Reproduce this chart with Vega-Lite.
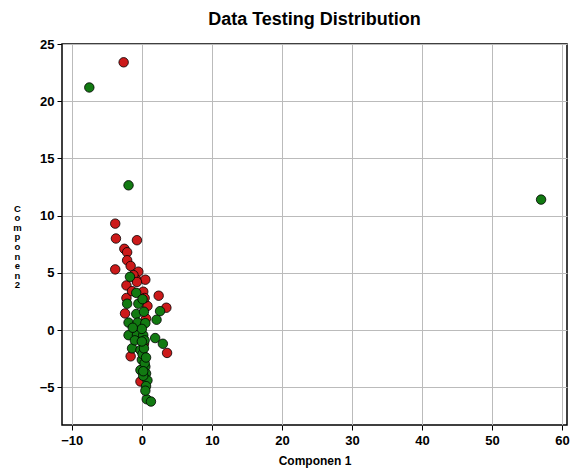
{
  "$schema": "https://vega.github.io/schema/vega-lite/v6.json",
  "autosize": "none",
  "width": 505,
  "height": 381,
  "padding": {"left": 62, "top": 44, "right": 3, "bottom": 49},
  "background": "white",
  "title": {"text": "Data Testing Distribution", "fontSize": 18, "fontWeight": "bold", "font": "Liberation Sans", "color": "black", "offset": 9, "anchor": "middle"},
  "config": {"view": {"stroke": "black", "strokeWidth": 1.5}},
  "data": {"values": [
    {"c1": -2.6, "c2": 23.4, "label": "red"},
    {"c1": -7.5, "c2": 21.2, "label": "green"},
    {"c1": -1.9, "c2": 12.65, "label": "green"},
    {"c1": 57.0, "c2": 11.4, "label": "green"},
    {"c1": -3.8, "c2": 9.3, "label": "red"},
    {"c1": -3.7, "c2": 8.0, "label": "red"},
    {"c1": -0.7, "c2": 7.85, "label": "red"},
    {"c1": -2.5, "c2": 7.1, "label": "red"},
    {"c1": -2.1, "c2": 6.8, "label": "red"},
    {"c1": -2.1, "c2": 6.1, "label": "red"},
    {"c1": -1.6, "c2": 5.6, "label": "red"},
    {"c1": -3.8, "c2": 5.3, "label": "red"},
    {"c1": -0.5, "c2": 5.1, "label": "red"},
    {"c1": -0.8, "c2": 4.4, "label": "red"},
    {"c1": -1.2, "c2": 4.8, "label": "red"},
    {"c1": 0.5, "c2": 4.4, "label": "red"},
    {"c1": -2.2, "c2": 3.9, "label": "red"},
    {"c1": -0.7, "c2": 4.2, "label": "red"},
    {"c1": 0.2, "c2": 3.35, "label": "red"},
    {"c1": 2.4, "c2": 3.0, "label": "red"},
    {"c1": 0.8, "c2": 2.1, "label": "red"},
    {"c1": 3.5, "c2": 1.95, "label": "red"},
    {"c1": -2.4, "c2": 1.45, "label": "red"},
    {"c1": -2.2, "c2": 2.8, "label": "red"},
    {"c1": 0.6, "c2": 1.0, "label": "red"},
    {"c1": -1.4, "c2": 3.4, "label": "red"},
    {"c1": 0.4, "c2": 2.8, "label": "red"},
    {"c1": -1.6, "c2": -2.3, "label": "red"},
    {"c1": 3.6, "c2": -2.0, "label": "red"},
    {"c1": -0.2, "c2": -4.5, "label": "red"},
    {"c1": 0.3, "c2": -1.2, "label": "red"},
    {"c1": -1.7, "c2": 4.65, "label": "green"},
    {"c1": -0.8, "c2": 3.25, "label": "green"},
    {"c1": -2.1, "c2": 2.3, "label": "green"},
    {"c1": -0.5, "c2": 2.3, "label": "green"},
    {"c1": 2.6, "c2": 1.65, "label": "green"},
    {"c1": -0.8, "c2": 1.4, "label": "green"},
    {"c1": 2.1, "c2": 0.9, "label": "green"},
    {"c1": -1.9, "c2": 0.65, "label": "green"},
    {"c1": -0.6, "c2": 0.65, "label": "green"},
    {"c1": 0.5, "c2": 0.6, "label": "green"},
    {"c1": -1.9, "c2": -0.45, "label": "green"},
    {"c1": -0.7, "c2": -0.45, "label": "green"},
    {"c1": 0.2, "c2": -0.45, "label": "green"},
    {"c1": 1.9, "c2": -0.7, "label": "green"},
    {"c1": 3.0, "c2": -1.2, "label": "green"},
    {"c1": -1.4, "c2": -1.6, "label": "green"},
    {"c1": -0.2, "c2": -1.75, "label": "green"},
    {"c1": 0.0, "c2": -2.6, "label": "green"},
    {"c1": 0.5, "c2": -3.2, "label": "green"},
    {"c1": -0.2, "c2": -3.5, "label": "green"},
    {"c1": 0.6, "c2": -3.8, "label": "green"},
    {"c1": 0.8, "c2": -4.4, "label": "green"},
    {"c1": 0.6, "c2": -4.9, "label": "green"},
    {"c1": 0.7, "c2": -6.05, "label": "green"},
    {"c1": 1.3, "c2": -6.25, "label": "green"},
    {"c1": 0.1, "c2": 2.7, "label": "green"},
    {"c1": 0.3, "c2": 1.6, "label": "green"},
    {"c1": 0.0, "c2": 0.1, "label": "green"},
    {"c1": 0.4, "c2": -0.9, "label": "green"},
    {"c1": 0.1, "c2": -2.1, "label": "green"},
    {"c1": 0.4, "c2": -2.9, "label": "green"},
    {"c1": 0.2, "c2": -4.0, "label": "green"},
    {"c1": 0.5, "c2": -5.3, "label": "green"},
    {"c1": -1.0, "c2": -0.9, "label": "green"},
    {"c1": -1.3, "c2": 0.2, "label": "green"},
    {"c1": 0.3, "c2": -1.6, "label": "green"},
    {"c1": 0.0, "c2": -1.0, "label": "green"},
    {"c1": 0.6, "c2": -2.4, "label": "green"},
    {"c1": 0.2, "c2": -3.6, "label": "green"}
  ]},
  "mark": {"type": "point", "filled": true, "opacity": 1, "stroke": "black", "strokeWidth": 0.8, "size": 90},
  "encoding": {
    "x": {"field": "c1", "type": "quantitative",
      "scale": {"domain": [-11.4, 60.7], "nice": false, "zero": false},
      "axis": {"values": [-10, 0, 10, 20, 30, 40, 50, 60], "title": "Componen 1", "titleFontSize": 12, "titleFontWeight": "bold", "titleFont": "Liberation Sans", "titleColor": "black", "titlePadding": 8,
        "labelFont": "Liberation Sans", "labelFontSize": 13, "labelFontWeight": "bold", "labelColor": "black", "labelFlush": false,
        "gridColor": "#bbbbbb", "gridWidth": 1, "domain": false, "tickColor": "black", "tickSize": 5, "labelPadding": 4}},
    "y": {"field": "c2", "type": "quantitative",
      "scale": {"domain": [-8.3, 25], "nice": false, "zero": false},
      "axis": {"values": [-5, 0, 5, 10, 15, 20, 25], "title": ["C", "o", "m", "p", "o", "n", "e", "n", "2"], "titleAngle": 0, "titleFontSize": 9.5, "titleFontWeight": "bold", "titleFont": "Liberation Sans", "titleColor": "black", "titleLineHeight": 9.6, "titleX": -45, "titleY": 159, "titleAlign": "center", "titleBaseline": "top",
        "labelFont": "Liberation Sans", "labelFontSize": 13, "labelFontWeight": "bold", "labelColor": "black", "labelFlush": false,
        "gridColor": "#bbbbbb", "gridWidth": 1, "domain": false, "tickColor": "black", "tickSize": 5, "labelPadding": 3}},
    "color": {"field": "label", "type": "nominal", "scale": {"domain": ["red", "green"], "range": ["#cc1a1a", "#127a12"]}, "legend": null}
  }
}
